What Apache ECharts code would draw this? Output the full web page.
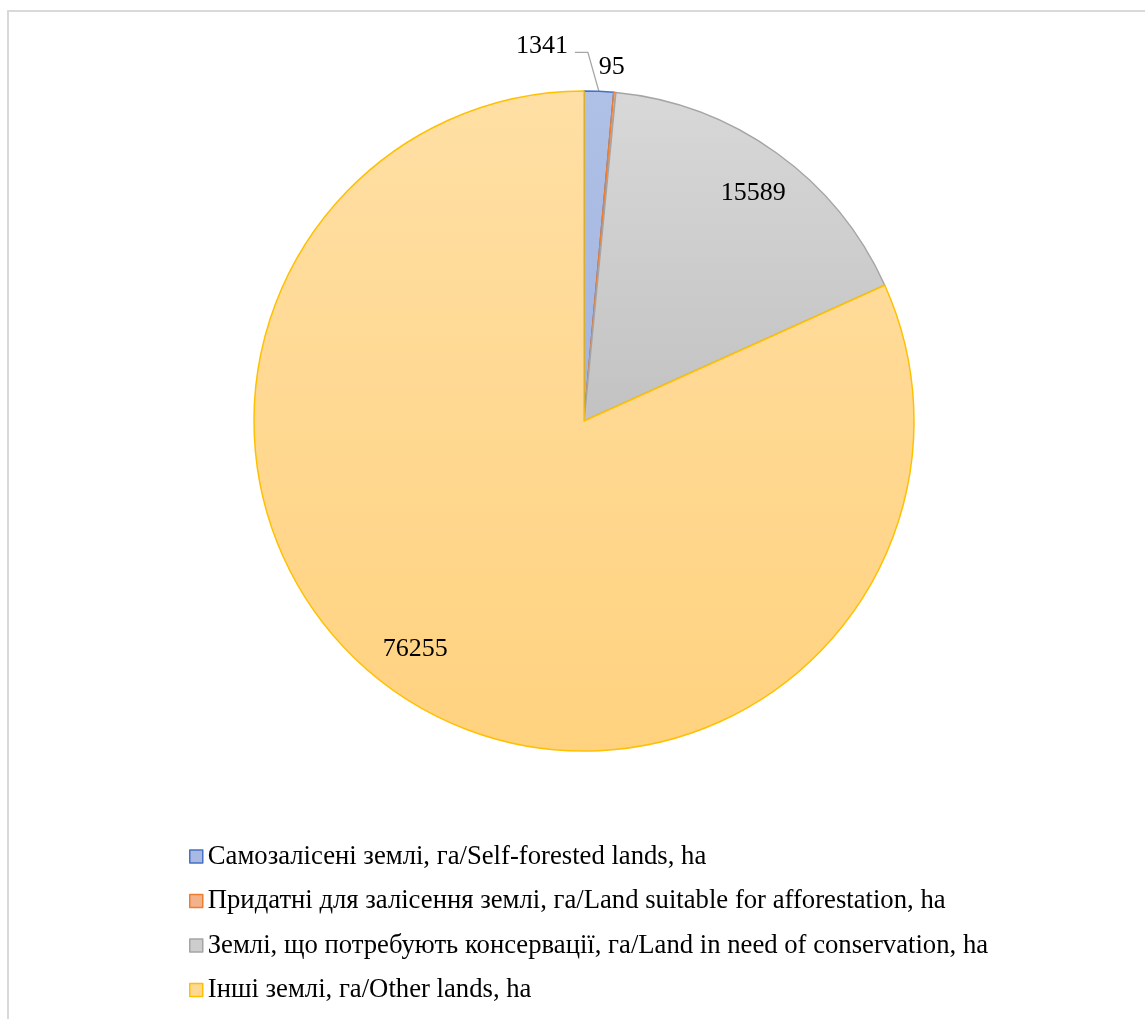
<!DOCTYPE html>
<html>
<head>
<meta charset="utf-8">
<script src="https://cdn.jsdelivr.net/npm/echarts@6/dist/echarts.min.js"></script>
<style>
html,body{margin:0;padding:0;background:#fff;}
#chart{width:1145px;height:1019px;}
</style>
</head>
<body>
<div id="chart"></div>
<script>
const categories = [
  'Самозалісені землі, га/Self-forested lands, ha',
  'Придатні для залісення землі, га/Land suitable for afforestation, ha',
  'Землі, що потребують консервації, га/Land in need of conservation, ha',
  'Інші землі, га/Other lands, ha'
];
const values = [1341, 95, 15589, 76255];

const fillTop = ['#B0C1E7', '#F6BC98', '#D8D8D8', '#FFDFA4'];
const fillBottom = ['#A2B3DF', '#F2AA7C', '#C2C2C2', '#FFD27F'];
const edgeColors = ['#4472C4', '#ED7D31', '#A5A5A5', '#FFC000'];
const legendFill = ['#A9B9E3', '#F4B28A', '#CDCDCD', '#FFD994'];

const chart = echarts.init(document.getElementById('chart'), null, {renderer: 'canvas'});
const FONT = '"Liberation Serif", "Times New Roman", serif';

function grad(i) {
  return new echarts.graphic.LinearGradient(0, 0, 0, 1, [
    {offset: 0, color: fillTop[i]},
    {offset: 1, color: fillBottom[i]}
  ]);
}

const mainData = categories.map((name, i) => ({
  name: name,
  value: values[i],
  itemStyle: {color: grad(i), borderColor: edgeColors[i], borderWidth: 1.5},
  label: {show: i < 2},
  labelLine: i === 0
    ? {show: true, length: 20, length2: 10, lineStyle: {color: '#A6A6A6', width: 1.3}}
    : {show: i === 1, length: 20, length2: 10, lineStyle: {width: 0, opacity: 0}}
}));

const innerData = categories.map((name, i) => ({
  name: name + ' ',
  value: values[i],
  label: {show: i >= 2}
}));

const option = {
  animation: false,
  backgroundColor: '#fff',
  graphic: [{
    type: 'rect',
    shape: {x: 8, y: 11, width: 1200, height: 1100},
    style: {fill: 'none', stroke: '#D9D9D9', lineWidth: 2},
    silent: true,
    z: -1
  }],
  legend: {
    orient: 'vertical',
    left: 184,
    top: 838,
    icon: 'rect',
    itemWidth: 13,
    itemHeight: 13,
    itemGap: 17.5,
    selectedMode: false,
    textStyle: {fontFamily: FONT, fontSize: 26.7, color: '#000', padding: 0},
    data: categories.map((name, i) => ({
      name: name,
      itemStyle: {color: legendFill[i], borderColor: edgeColors[i], borderWidth: 1.5}
    }))
  },
  series: [{
    type: 'pie',
    center: [584, 421],
    radius: 330,
    startAngle: 90,
    clockwise: true,
    avoidLabelOverlap: false,
    silent: true,
    label: {
      position: 'outside',
      fontFamily: FONT,
      fontSize: 26,
      color: '#000',
      formatter: '{c}'
    },
    labelLayout: function (p) {
      const pts = p.labelLinePoints;
      if (!pts) return {};
      const a = pts[0];
      if (p.dataIndex === 0) {
        return {
          x: a[0] - 31, y: a[1] - 45, align: 'right', verticalAlign: 'middle',
          labelLinePoints: [a, [a[0] - 11, a[1] - 39], [a[0] - 24, a[1] - 39]]
        };
      }
      if (p.dataIndex === 1) {
        return {
          x: a[0] - 16, y: a[1] - 25, align: 'left', verticalAlign: 'middle',
          labelLinePoints: [a, a, a]
        };
      }
      return {};
    },
    data: mainData
  }, {
    type: 'pie',
    center: [584, 421],
    radius: [238, 330],
    startAngle: 90,
    clockwise: true,
    silent: true,
    legendHoverLink: false,
    avoidLabelOverlap: false,
    itemStyle: {color: 'rgba(0,0,0,0)', borderWidth: 0},
    label: {
      position: 'inside',
      fontFamily: FONT,
      fontSize: 26,
      color: '#000',
      formatter: '{c}'
    },
    labelLayout: function (p) {
      if (p.dataIndex === 2) return {dx: 2, dy: 5};
      if (p.dataIndex === 3) return {dx: -13, dy: -13};
      return {};
    },
    labelLine: {show: false},
    data: innerData
  }]
};
chart.setOption(option);
</script>
</body>
</html>
